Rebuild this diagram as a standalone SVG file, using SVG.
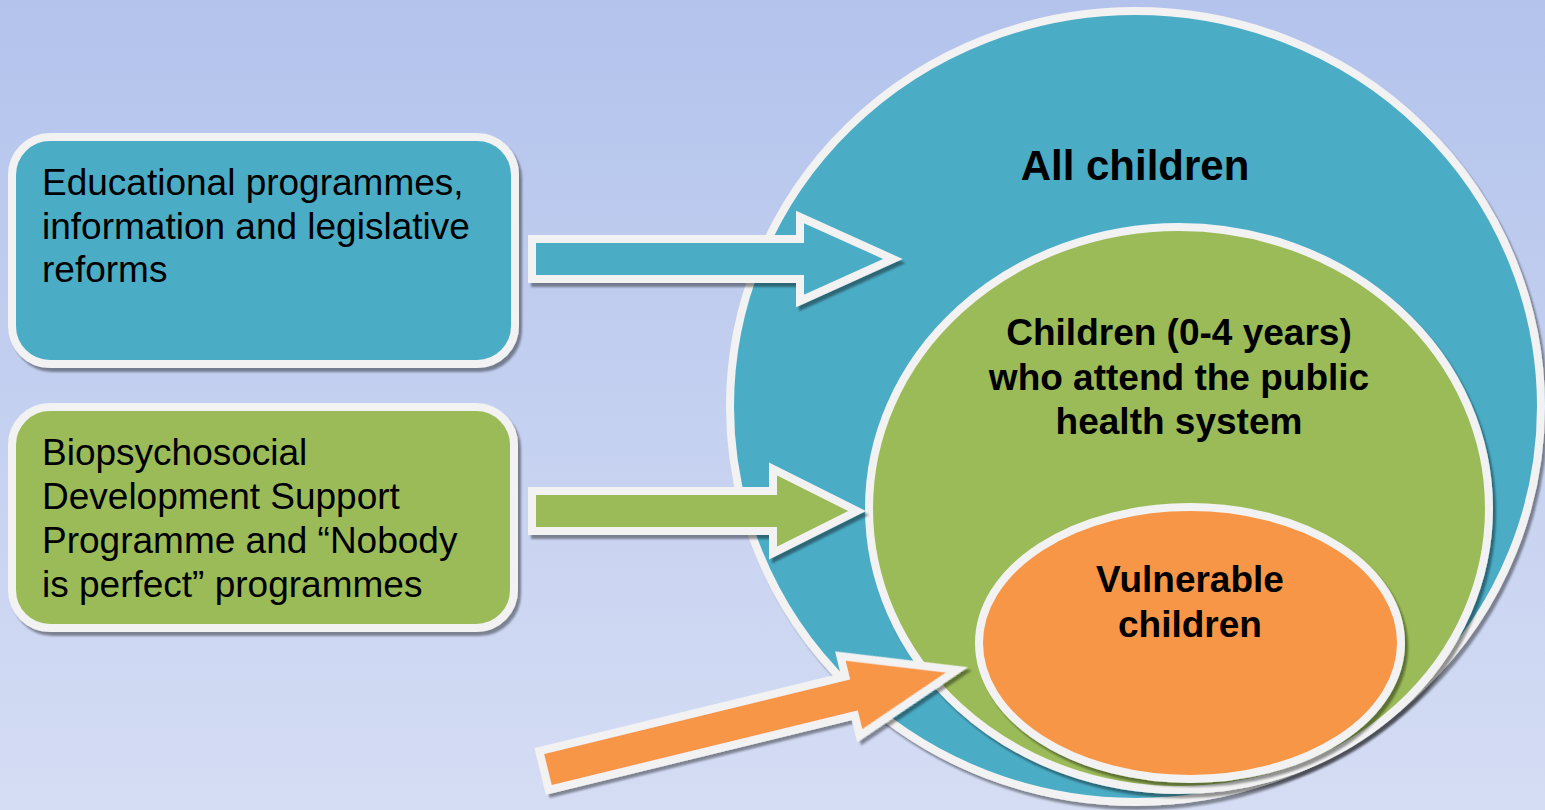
<svg xmlns="http://www.w3.org/2000/svg" width="1545" height="810" viewBox="0 0 1545 810">
<defs>
<linearGradient id="bg" x1="0" y1="0" x2="0" y2="1">
<stop offset="0" stop-color="#B3C3EC"/>
<stop offset="1" stop-color="#D5DDF4"/>
</linearGradient>
<filter id="sh" x="-10%" y="-10%" width="125%" height="125%">
<feGaussianBlur in="SourceAlpha" stdDeviation="1.2"/>
<feOffset dx="3" dy="4" result="o"/>
<feFlood flood-color="#000" flood-opacity="0.4"/>
<feComposite in2="o" operator="in"/>
<feMerge><feMergeNode/><feMergeNode in="SourceGraphic"/></feMerge>
</filter>
</defs>
<style>
.w{stroke:#F2F2F2;stroke-width:8;stroke-linejoin:miter}
.teal{fill:#4BACC6}
.green{fill:#9BBB59}
.orange{fill:#F79646}
.t{font-family:"Liberation Sans",Arial,sans-serif;font-size:37px;fill:#000}
.b{font-family:"Liberation Sans",Arial,sans-serif;font-size:37px;font-weight:bold;fill:#000;text-anchor:middle}
.big{font-size:42px}
</style>
<rect x="0" y="0" width="1545" height="810" fill="url(#bg)"/>

<g id="all-children">
<ellipse class="teal w" cx="1135.5" cy="406.5" rx="405.5" ry="395.5" filter="url(#sh)"/>
<text class="b big" x="1135" y="180">All children</text>
</g>

<g id="public-health">
<ellipse class="green w" cx="1179" cy="508.5" rx="310" ry="281.5" filter="url(#sh)"/>
<text class="b" x="1179" y="345">Children (0-4 years)</text>
<text class="b" x="1179" y="390">who attend the public</text>
<text class="b" x="1179" y="434">health system</text>
</g>

<g id="vulnerable">
<ellipse class="orange w" cx="1190" cy="643" rx="211" ry="136" filter="url(#sh)"/>
<text class="b" x="1190" y="592">Vulnerable</text>
<text class="b" x="1190" y="637">children</text>
</g>

<g id="box-education">
<rect class="teal w" x="12" y="137" width="503" height="227" rx="38" ry="38" filter="url(#sh)"/>
<text class="t" x="42" y="195">Educational programmes,</text>
<text class="t" x="42" y="239">information and legislative</text>
<text class="t" x="42" y="282">reforms</text>
</g>

<g id="box-biopsychosocial">
<rect class="green w" x="12" y="407" width="502" height="221" rx="38" ry="38" filter="url(#sh)"/>
<text class="t" x="42" y="465">Biopsychosocial</text>
<text class="t" x="42" y="509">Development Support</text>
<text class="t" x="42" y="553">Programme and “Nobody</text>
<text class="t" x="42" y="597">is perfect” programmes</text>
</g>

<g id="connectors">
<polygon class="teal w" points="532,239 800,239 800,217 893,259 800,301 800,279 532,279" filter="url(#sh)"/>
<polygon class="green w" points="532,491 773,491 773,469 857,511 773,553 773,531 532,531" filter="url(#sh)"/>
<polygon class="orange w" transform="translate(544,770.5) rotate(-13.7)" points="0,-20 315,-20 315,-41 425,0 315,41 315,20 0,20" filter="url(#sh)"/>
</g>
</svg>
